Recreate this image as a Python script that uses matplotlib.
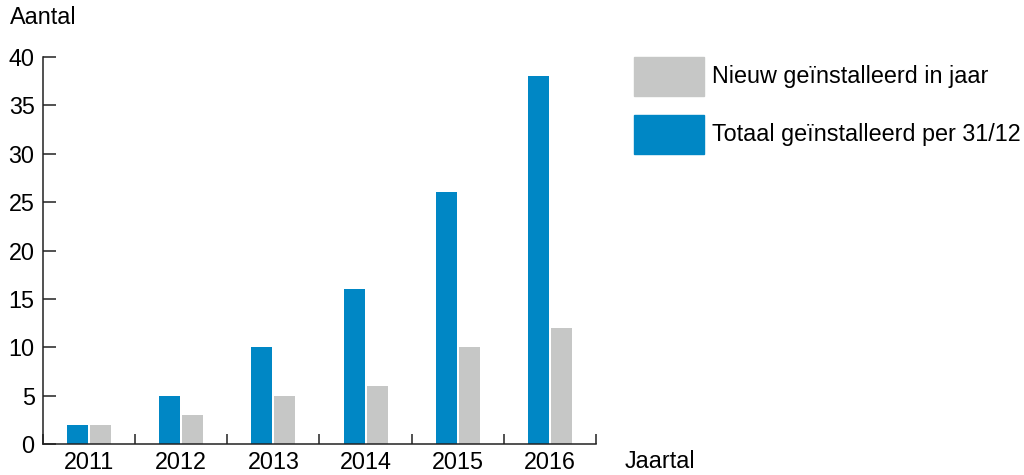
import matplotlib.pyplot as plt
from matplotlib.patches import Rectangle
import numpy as np

jaren = ['2011', '2012', '2013', '2014', '2015', '2016']
totaal = [2, 5, 10, 16, 26, 38]
nieuw = [2, 3, 5, 6, 10, 12]

blauw = '#0087c5'
grijs = '#c6c7c6'
lijn = '#222222'
fs = 16.8

plt.rcParams['font.family'] = ['Liberation Sans', 'DejaVu Sans']

fig = plt.figure(figsize=(10.24, 4.75), dpi=100)
ax = fig.add_axes([43 / 1024, 31 / 475, 553 / 1024, 387 / 475])

x = np.arange(len(jaren))
breedte = 0.228
ax.bar(x - 0.125, totaal, width=breedte, color=blauw)
ax.bar(x + 0.125, nieuw, width=breedte, color=grijs)

ax.set_xlim(-0.5, len(jaren) - 0.5)
ax.set_ylim(0, 40)
ax.set_yticks(range(0, 41, 5))
ax.set_xticks(x)
ax.set_xticklabels(jaren)
ax.set_xticks(np.arange(-0.5, len(jaren)), minor=True)

for s in ['top', 'right']:
    ax.spines[s].set_visible(False)
for s in ['left', 'bottom']:
    ax.spines[s].set_color(lijn)
    ax.spines[s].set_linewidth(1.1)

ax.tick_params(axis='y', direction='in', length=9.4, width=1.1, color=lijn,
               labelsize=fs, pad=6)
ax.tick_params(axis='x', which='major', length=0, labelsize=fs, pad=5)
ax.tick_params(axis='x', which='minor', direction='in', length=7.2, width=1.1,
               color=lijn)

fig.text(10 / 1024, 1 - 18 / 475, 'Aantal', fontsize=fs, va='center', ha='left')
fig.text(625 / 1024, 1 - 462 / 475, 'Jaartal', fontsize=fs, va='center', ha='left')

# legenda
items = [(grijs, 'Nieuw geïnstalleerd in jaar', 57),
         (blauw, 'Totaal geïnstalleerd per 31/12', 115)]
for kleur, tekst, top in items:
    fig.patches.append(Rectangle((634 / 1024, 1 - (top + 39) / 475), 70 / 1024, 39 / 475,
                                 transform=fig.transFigure, color=kleur))
    fig.text(712 / 1024, 1 - (top + 20) / 475, tekst, fontsize=fs,
             va='center', ha='left')

fig.savefig('out.png', dpi=100)
